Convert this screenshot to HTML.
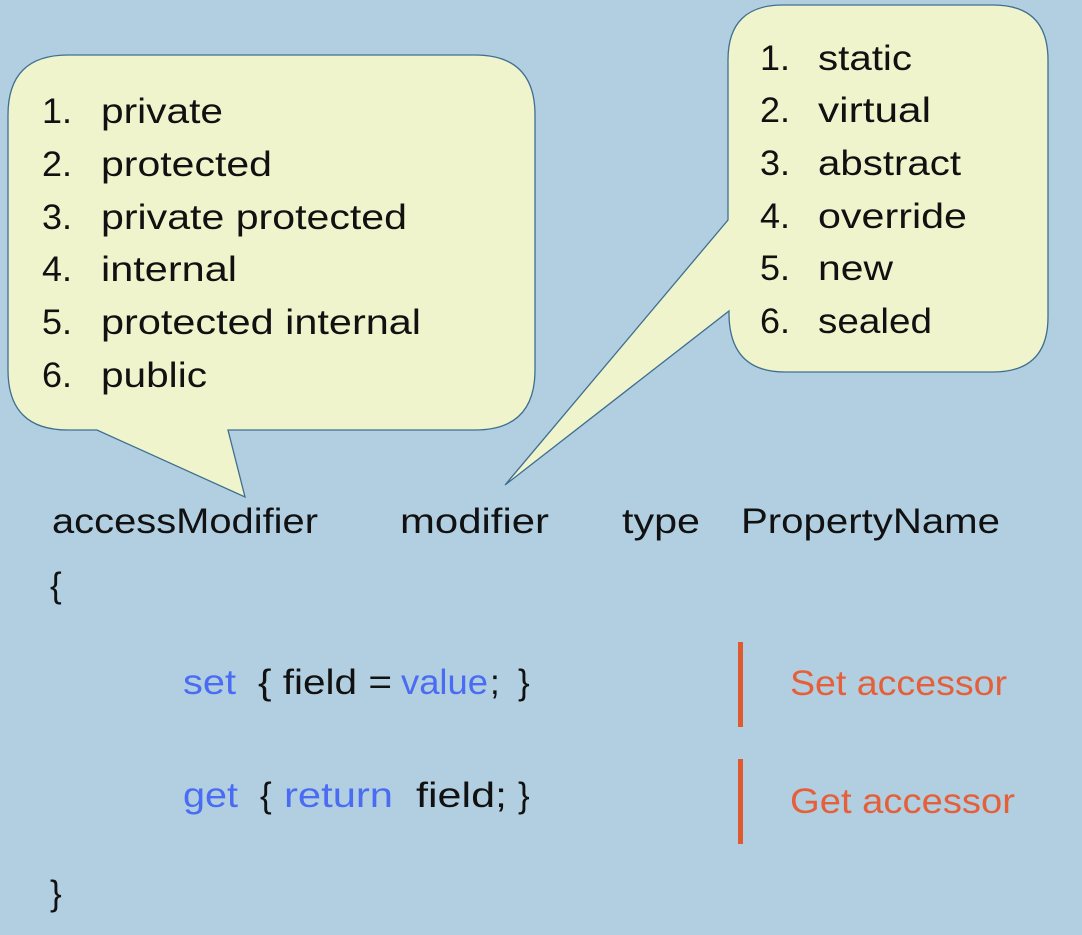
<!DOCTYPE html>
<html><head><meta charset="utf-8"><style>
html,body{margin:0;padding:0;background:#b1cfe1;}
svg{display:block}
text{font-family:"Liberation Sans",sans-serif;font-size:35px;fill:#111;}
.b{fill:#4a6cf2}.o{fill:#e5603a}
</style></head><body>
<svg width="1082" height="935" viewBox="0 0 1082 935">
<rect width="1082" height="935" fill="#b1cfe1"/>
<path d="M68,55 H475 Q535,55 535,115 V370 Q535,430 475,430 H228 L245,497 L97,430 H68 Q8,430 8,370 V115 Q8,55 68,55 Z" fill="#eff4cc" stroke="#3f6f8f" stroke-width="1.3"/>
<path d="M783,5 H993 Q1048,5 1048,60 V317 Q1048,372 993,372 H785 Q730,372 729,315 V311 L505,485 L728,220 V60 Q728,5 783,5 Z" fill="#eff4cc" stroke="#3f6f8f" stroke-width="1.3"/>
<g>
<text x="42" y="123" textLength="30" lengthAdjust="spacingAndGlyphs">1.</text><text x="101" y="123" textLength="122" lengthAdjust="spacingAndGlyphs">private</text>
<text x="42" y="176" textLength="30" lengthAdjust="spacingAndGlyphs">2.</text><text x="101" y="176" textLength="171" lengthAdjust="spacingAndGlyphs">protected</text>
<text x="42" y="229" textLength="30" lengthAdjust="spacingAndGlyphs">3.</text><text x="101" y="229" textLength="306" lengthAdjust="spacingAndGlyphs">private protected</text>
<text x="42" y="281" textLength="30" lengthAdjust="spacingAndGlyphs">4.</text><text x="101" y="281" textLength="136" lengthAdjust="spacingAndGlyphs">internal</text>
<text x="42" y="334" textLength="30" lengthAdjust="spacingAndGlyphs">5.</text><text x="101" y="334" textLength="320" lengthAdjust="spacingAndGlyphs">protected internal</text>
<text x="42" y="387" textLength="30" lengthAdjust="spacingAndGlyphs">6.</text><text x="101" y="387" textLength="106" lengthAdjust="spacingAndGlyphs">public</text>
</g>
<g>
<text x="760" y="70" textLength="30" lengthAdjust="spacingAndGlyphs">1.</text><text x="818" y="70" textLength="94" lengthAdjust="spacingAndGlyphs">static</text>
<text x="760" y="122" textLength="30" lengthAdjust="spacingAndGlyphs">2.</text><text x="818" y="122" textLength="113" lengthAdjust="spacingAndGlyphs">virtual</text>
<text x="760" y="175" textLength="30" lengthAdjust="spacingAndGlyphs">3.</text><text x="818" y="175" textLength="143" lengthAdjust="spacingAndGlyphs">abstract</text>
<text x="760" y="228" textLength="30" lengthAdjust="spacingAndGlyphs">4.</text><text x="818" y="228" textLength="149" lengthAdjust="spacingAndGlyphs">override</text>
<text x="760" y="280" textLength="30" lengthAdjust="spacingAndGlyphs">5.</text><text x="818" y="280" textLength="75" lengthAdjust="spacingAndGlyphs">new</text>
<text x="760" y="333" textLength="30" lengthAdjust="spacingAndGlyphs">6.</text><text x="818" y="333" textLength="114" lengthAdjust="spacingAndGlyphs">sealed</text>
</g>
<text x="52" y="533" textLength="266" lengthAdjust="spacingAndGlyphs">accessModifier</text>
<text x="400" y="533" textLength="149" lengthAdjust="spacingAndGlyphs">modifier</text>
<text x="622" y="533" textLength="78" lengthAdjust="spacingAndGlyphs">type</text>
<text x="741" y="533" textLength="259" lengthAdjust="spacingAndGlyphs">PropertyName</text>
<text x="50" y="597">{</text>
<text class="b" x="183" y="694" textLength="53" lengthAdjust="spacingAndGlyphs">set</text>
<text x="258" y="694" textLength="134" lengthAdjust="spacingAndGlyphs">{ field =</text>
<text class="b" x="401" y="694" textLength="87" lengthAdjust="spacingAndGlyphs">value</text>
<text x="490" y="694">;</text><text x="518" y="694">}</text>
<text class="b" x="183" y="807" textLength="55" lengthAdjust="spacingAndGlyphs">get</text>
<text x="260" y="807">{</text>
<text class="b" x="284" y="807" textLength="109" lengthAdjust="spacingAndGlyphs">return</text>
<text x="416" y="807" textLength="91" lengthAdjust="spacingAndGlyphs">field;</text>
<text x="518" y="807">}</text>
<text x="50" y="905">}</text>
<rect x="738" y="642" width="5" height="85" fill="#e05a30"/>
<rect x="738" y="759" width="5" height="85" fill="#e05a30"/>
<text class="o" x="790" y="695" textLength="217" lengthAdjust="spacingAndGlyphs">Set accessor</text>
<text class="o" x="790" y="813" textLength="225" lengthAdjust="spacingAndGlyphs">Get accessor</text>
</svg>
</body></html>
